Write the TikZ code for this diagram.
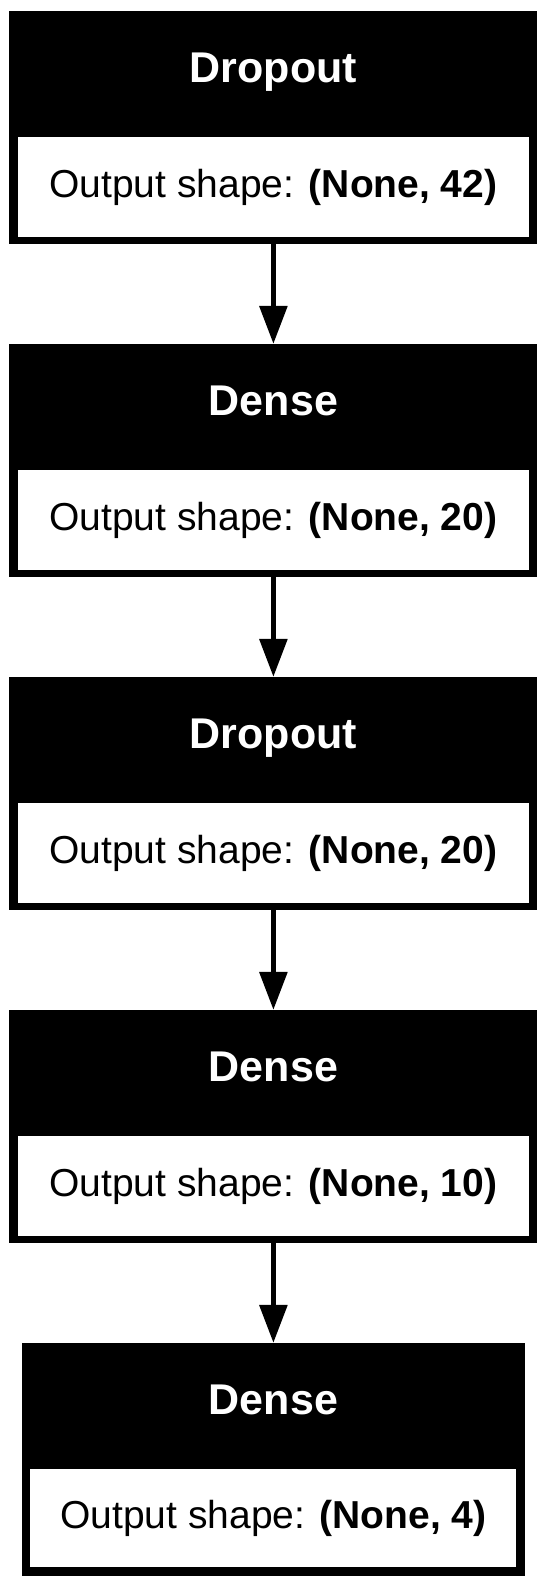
\documentclass[tikz,border=0pt]{standalone}
\usepackage{fontspec}
\setmainfont{Liberation Sans}
\usetikzlibrary{arrows.meta,positioning}
\tikzset{>={Triangle[length=38pt,width=27pt]},
  layerbox/.style={rectangle,fill=black,inner sep=0pt,outer sep=0pt,
    minimum width=528pt,minimum height=233pt},
  shapebox/.style={rectangle,fill=white,inner sep=0pt,outer sep=0pt,
    minimum width=511pt,minimum height=100pt,font=\fontsize{39}{45}\selectfont},
  layername/.style={text=white,inner sep=0pt,font=\fontsize{43}{50}\selectfont\bfseries},
  flow/.style={->,line width=5.7pt}}

\begin{document}
\begin{tikzpicture}[x=1pt,y=1pt]
  \useasboundingbox (0,0) rectangle (547,1589);
  % layers
  \node[layerbox] (l1) at (273.4,1461.5) {};
  \node[layerbox,below=100pt of l1] (l2) {};
  \node[layerbox,below=100pt of l2] (l3) {};
  \node[layerbox,below=100pt of l3] (l4) {};
  \node[layerbox,below=100pt of l4,minimum width=503pt] (l5) {};
  % names
  \node[layername,anchor=base] (n1) at ([yshift=-72pt]l1.north) {Dropout};
  \node[layername,anchor=base] (n2) at ([yshift=-72pt]l2.north) {Dense};
  \node[layername,anchor=base] (n3) at ([yshift=-72pt]l3.north) {Dropout};
  \node[layername,anchor=base] (n4) at ([yshift=-72pt]l4.north) {Dense};
  \node[layername,anchor=base] (n5) at ([yshift=-72pt]l5.north) {Dense};
  % output shapes
  \node[shapebox,above=7pt of l1.south] (s1) {Output shape: \textbf{(None, 42)}};
  \node[shapebox,above=7pt of l2.south] (s2) {Output shape: \textbf{(None, 20)}};
  \node[shapebox,above=7pt of l3.south] (s3) {Output shape: \textbf{(None, 20)}};
  \node[shapebox,above=7pt of l4.south] (s4) {Output shape: \textbf{(None, 10)}};
  \node[shapebox,above=9pt of l5.south,minimum width=486pt,minimum height=98pt] (s5)
    {Output shape: \textbf{(None, 4)}};
  % connections
  \draw[flow] (l1) -- (l2);
  \draw[flow] (l2) -- (l3);
  \draw[flow] (l3) -- (l4);
  \draw[flow] (l4) -- (l5);
\end{tikzpicture}
\end{document}
